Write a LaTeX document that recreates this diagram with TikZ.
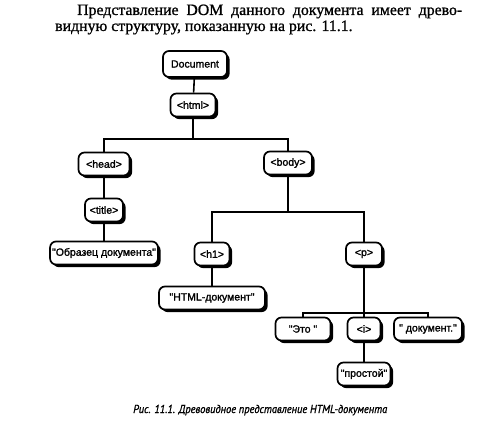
\documentclass[tikz,border=0pt]{standalone}
\usepackage{fontspec}
\setmainfont{Liberation Serif}[FakeBold=1.2]
\newfontfamily\hdrfont{Liberation Serif}[FakeBold=1.0]
\newfontfamily\nodefont{Liberation Sans}[FakeBold=1.6]
\newfontfamily\capfont{PT Sans}[FakeBold=1.2]
\usetikzlibrary{shadows}
\tikzset{
  tnode/.style={draw=black, line width=1.7pt, rounded corners=6pt, fill=white,
    minimum height=23pt, inner sep=2pt, font=\nodefont\fontsize{10.5}{12}\selectfont,
    drop shadow={shadow xshift=2.6pt, shadow yshift=-2.6pt, fill=black, opacity=1}},
  conn/.style={line width=1.6pt, draw=black}
}
\begin{document}
\begin{tikzpicture}[x=1pt,y=-1pt]
\useasboundingbox (0,0) rectangle (479,427);
% header text
\node[anchor=base west, inner sep=0] (hdr1) at (77,15)
  {\hdrfont\fontsize{15.8}{16}\selectfont\makebox[385pt][s]{Представление DOM данного документа имеет древо-}};
\node[anchor=base west, inner sep=0] (hdr2) at (55,31)
  {\hdrfont\fontsize{15.8}{16}\selectfont видную структуру, показанную на рис. 11.1.};
% junctions
\coordinate (j1) at (193,139);
\coordinate (j2) at (288,212);
\coordinate (j3) at (364,313);
% nodes
\node[tnode, minimum width=64pt, minimum height=26pt] (doc) at (195,64) {Document};
\node[tnode, minimum width=45pt] (html) at (193,105) {<html>};
\node[tnode, minimum width=51pt] (head) at (104,164) {<head>};
\node[tnode, minimum width=48pt] (body) at (288,163) {<body>};
\node[tnode, minimum width=38pt] (title) at (104,210) {<title>};
\node[tnode, minimum width=99pt] (obr) at (104,253) {"Образец документа"};
\node[tnode, minimum width=35pt] (h1) at (212,254) {<h1>};
\node[tnode, minimum width=36pt] (p) at (364,254) {<p>};
\node[tnode, minimum width=106pt] (hdoc) at (212,298) {"HTML-документ"};
\node[tnode, minimum width=55pt] (eto) at (303,329) {"Это "};
\node[tnode, minimum width=33pt] (i) at (364,329) {<i>};
\node[tnode, minimum width=68pt] (dok) at (428,329) {" документ."};
\node[tnode, minimum width=53pt] (prost) at (364,374) {"простой"};
% connectors
\draw[conn] (doc) -- (html);
\draw[conn] (html.south) -- (j1);
\draw[conn] (j1) -| (head.north);
\draw[conn] (j1) -| (body.north);
\draw[conn] (head) -- (title);
\draw[conn] (title) -- (obr);
\draw[conn] (body.south) -- (j2);
\draw[conn] (j2) -| (h1.north);
\draw[conn] (j2) -| (p.north);
\draw[conn] (h1) -- (hdoc);
\draw[conn] (p.south) -- (j3);
\draw[conn] (j3) -| (eto.north);
\draw[conn] (j3) -- (i.north);
\draw[conn] (j3) -| (dok.north);
\draw[conn] (i) -- (prost);
% caption
\node[anchor=base west, inner sep=0] (cap) at (133,413)
  {\resizebox{254pt}{\height}{\capfont\itshape\fontsize{11.5}{12}\selectfont Рис. 11.1. Древовидное представление HTML-документа}};
\end{tikzpicture}
\end{document}
